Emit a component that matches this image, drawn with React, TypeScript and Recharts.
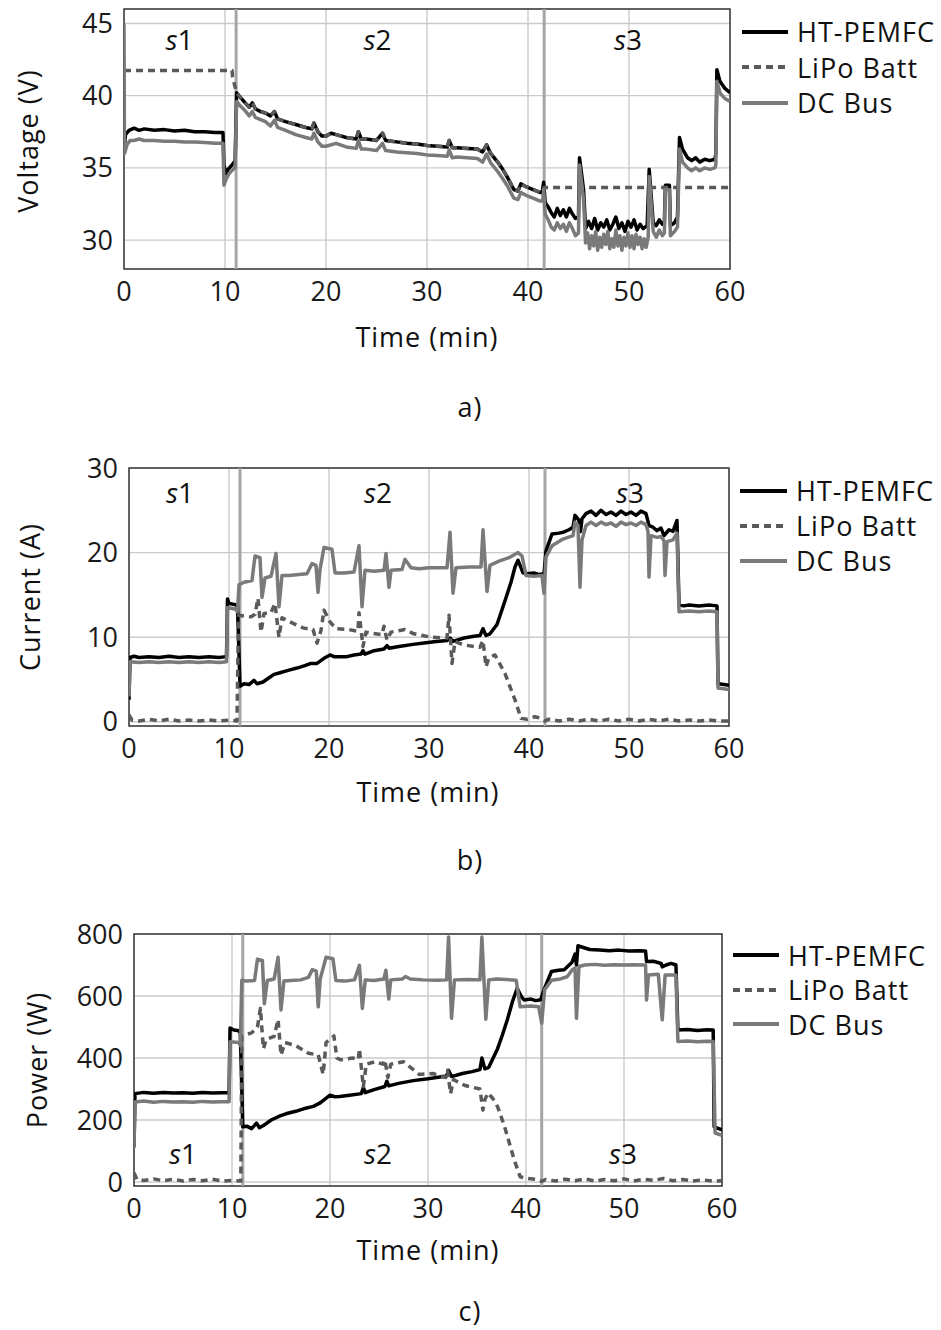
import React from "react";
import {
  CartesianGrid,
  Legend,
  Line,
  LineChart,
  ReferenceArea,
  ReferenceDot,
  ReferenceLine,
  XAxis,
  YAxis,
} from "recharts";

type Pt = [number, number];

const FONT = '"Open Sans", "DejaVu Sans", sans-serif';

const seriesNames = ["HT-PEMFC", "LiPo Batt", "DC Bus"];
const phaseNames = ["1", "2", "3"];
const phaseBounds = [11.1, 41.6];
const timeTicks = [0, 10, 20, 30, 40, 50, 60];

const voltageTicks = [30, 35, 40, 45];
const currentTicks = [0, 10, 20, 30];
const powerTicks = [0, 200, 400, 600, 800];

const voltagePhaseAt: Pt[] = [[5.5, 43.9], [25.1, 43.9], [49.9, 43.9]];
const currentPhaseAt: Pt[] = [[5.1, 27.2], [24.9, 27.2], [50.1, 27.2]];
const powerPhaseAt: Pt[] = [[5.0, 94], [24.9, 94], [49.9, 94]];

// ---- a) voltage ----
const fcVoltage: Pt[] = [
  [0, 36.2], [0.15, 37.3], [0.5, 37.6], [1, 37.75], [1.5, 37.6], [2, 37.7], [3, 37.6], [4, 37.65],
  [5, 37.55], [6, 37.6], [7, 37.5], [8, 37.5], [9, 37.45], [9.8, 37.45], [9.9, 35.2], [10.1, 34.6],
  [10.3, 34.9], [10.7, 35.2], [11.0, 35.5], [11.15, 40.2], [11.5, 39.9], [12, 39.5], [12.4, 39.2],
  [12.7, 39.5], [13, 39.1], [13.5, 38.9], [14, 38.8], [14.5, 38.6], [14.9, 38.9], [15.2, 38.4],
  [16, 38.2], [17, 38.0], [18, 37.8], [18.6, 37.7], [18.8, 38.1], [19.2, 37.5], [19.6, 37.2],
  [20, 37.2], [20.5, 37.4], [21, 37.3], [22, 37.1], [23, 37.0], [23.2, 37.5], [23.5, 37.0],
  [24, 37.0], [25, 36.9], [25.6, 37.4], [25.9, 36.9], [27, 36.8], [28, 36.7], [29, 36.65],
  [30, 36.55], [31, 36.5], [32, 36.45], [32.2, 36.9], [32.5, 36.4], [33, 36.4], [34, 36.35],
  [35, 36.3], [35.5, 36.1], [35.9, 36.6], [36.3, 36.0], [37, 35.4], [37.5, 34.9], [38, 34.3],
  [38.6, 33.5], [39, 33.4], [39.3, 33.9], [39.8, 33.7], [40.5, 33.5], [41.2, 33.3], [41.4, 33.3],
  [41.55, 34.0], [41.7, 32.6], [42.0, 32.3], [42.3, 31.9], [42.6, 31.6], [42.9, 32.2], [43.2, 31.7],
  [43.5, 32.1], [43.8, 31.6], [44.1, 32.2], [44.4, 31.8], [44.7, 31.5], [45.0, 31.6], [45.1, 35.7],
  [45.5, 33.5], [45.7, 30.8], [46.0, 31.3], [46.3, 30.8], [46.6, 31.5], [46.9, 30.7], [47.2, 31.2],
  [47.5, 30.9], [47.8, 31.4], [48.1, 30.7], [48.4, 31.1], [48.7, 31.6], [49.0, 30.8], [49.3, 31.2],
  [49.6, 30.6], [49.9, 31.3], [50.2, 30.9], [50.5, 31.4], [50.8, 30.7], [51.1, 31.1], [51.4, 30.8],
  [51.8, 31.0], [52.0, 34.9], [52.4, 31.2], [52.7, 31.0], [53.0, 31.4], [53.3, 31.1], [53.5, 31.2],
  [53.6, 33.8], [54.0, 33.8], [54.1, 31.0], [54.5, 31.2], [54.8, 31.6], [55.0, 37.1], [55.3, 36.3],
  [55.8, 35.7], [56.2, 35.5], [56.6, 35.7], [57.0, 35.4], [57.5, 35.6], [58.0, 35.5], [58.5, 35.6],
  [58.6, 36.0], [58.7, 41.8], [59.0, 41.0], [59.5, 40.5], [60, 40.2],
];

// battery voltage follows the fuel cell voltage through s2
const lipoVoltage: Pt[] = [
  [0, 41.75], [10.7, 41.75], [10.75, 41.3], [11.0, 40.6],
  ...fcVoltage.filter(([t]) => t >= 11.15 && t <= 41.4),
  [41.6, 33.65], [60, 33.65],
];

const busVoltage: Pt[] = [
  [0, 45], [0.05, 36.0], [0.3, 36.6], [0.6, 36.9], [1, 36.9], [1.5, 37.0], [2, 36.9], [3, 36.9],
  [4, 36.85], [5, 36.85], [6, 36.8], [7, 36.8], [8, 36.75], [9, 36.7], [9.8, 36.7], [9.9, 33.8],
  [10.1, 34.2], [10.4, 34.6], [10.8, 34.9], [11.0, 35.0], [11.15, 39.6], [11.5, 39.3], [12, 38.95],
  [12.4, 38.6], [12.7, 38.9], [13, 38.5], [14, 38.2], [14.5, 37.9], [14.9, 38.3], [15.2, 37.8],
  [16, 37.6], [17, 37.3], [18, 37.1], [18.6, 37.0], [18.8, 37.4], [19.2, 36.8], [19.6, 36.5],
  [20, 36.5], [21, 36.7], [22, 36.45], [23, 36.35], [23.2, 36.9], [23.5, 36.3], [24, 36.3],
  [25, 36.2], [25.6, 36.7], [25.9, 36.2], [27, 36.1], [28, 36.05], [29, 36.0], [30, 35.9],
  [31, 35.85], [32, 35.8], [32.2, 36.25], [32.5, 35.7], [33, 35.75], [34, 35.7], [35, 35.65],
  [35.5, 35.4], [35.9, 35.95], [36.3, 35.35], [37, 34.75], [37.5, 34.25], [38, 33.7], [38.6, 32.9],
  [39, 32.8], [39.3, 33.3], [39.8, 33.1], [40.5, 32.9], [41.2, 32.7], [41.45, 32.7], [41.55, 33.5],
  [41.7, 31.8], [42.0, 31.4], [42.3, 30.9], [42.6, 30.7], [42.9, 31.2], [43.2, 30.8], [43.5, 31.1],
  [43.8, 30.6], [44.1, 31.2], [44.4, 30.8], [44.7, 30.3], [45.0, 30.5], [45.1, 35.2], [45.5, 32.8],
  [45.7, 29.8], [45.9, 30.5], [46.1, 29.4], [46.3, 30.3], [46.5, 29.6], [46.7, 30.6], [46.9, 29.3],
  [47.1, 30.2], [47.3, 29.5], [47.5, 30.4], [47.7, 29.7], [47.9, 30.6], [48.1, 29.4], [48.3, 30.1],
  [48.5, 29.5], [48.7, 30.7], [48.9, 29.6], [49.1, 30.3], [49.3, 29.3], [49.5, 30.2], [49.7, 29.6],
  [49.9, 30.5], [50.1, 29.5], [50.3, 30.3], [50.5, 29.4], [50.7, 30.4], [50.9, 29.7], [51.1, 30.2],
  [51.3, 29.4], [51.5, 30.1], [51.7, 29.5], [51.9, 30.2], [52.0, 34.4], [52.4, 30.6], [52.7, 30.2],
  [53.0, 30.7], [53.3, 30.3], [53.5, 30.5], [53.6, 33.5], [54.0, 33.5], [54.1, 30.3], [54.5, 30.6],
  [54.8, 30.9], [55.0, 36.3], [55.3, 35.4], [55.8, 35.0], [56.2, 34.8], [56.6, 35.0], [57.0, 34.8],
  [57.5, 35.0], [58.0, 34.9], [58.5, 35.0], [58.6, 35.2], [58.7, 41.0], [59.0, 40.2], [59.5, 39.8],
  [60, 39.6],
];

// ---- b) current ----
const fcCurrent: Pt[] = [
  [0, 2.6], [0.1, 7.6], [0.5, 7.75], [1, 7.6], [2, 7.7], [3, 7.6], [4, 7.75], [5, 7.6], [6, 7.7],
  [7, 7.6], [8, 7.7], [9, 7.6], [9.75, 7.7], [9.85, 14.5], [10.0, 14.0], [10.4, 13.9], [10.7, 13.8],
  [10.85, 13.7], [11.1, 4.2], [11.5, 4.5], [12, 4.4], [12.5, 4.9], [12.8, 4.5], [13.4, 4.7],
  [14, 5.2], [14.5, 5.6], [15.1, 5.8], [16, 6.1], [16.8, 6.35], [17.5, 6.6], [18.2, 6.9], [18.8, 6.9],
  [19.5, 7.5], [20.1, 7.9], [20.5, 7.7], [21.8, 7.7], [22.5, 7.9], [23.2, 8.0], [23.4, 8.4],
  [23.6, 8.0], [24.5, 8.4], [25.5, 8.6], [25.8, 9.0], [26, 8.7], [27, 8.9], [28.4, 9.15],
  [29.5, 9.3], [30.5, 9.45], [31.8, 9.6], [32.1, 9.9], [32.4, 9.5], [33.5, 9.9], [34.5, 10.1],
  [35.1, 10.2], [35.4, 11.0], [35.7, 10.2], [36.1, 10.4], [36.8, 11.5], [37.6, 14.3], [38.2, 16.5],
  [38.6, 18.3], [38.9, 19.1], [39.4, 17.6], [39.8, 17.5], [40.5, 17.6], [41.0, 17.4], [41.5, 17.5],
  [41.7, 20.2], [42.3, 22.2], [43.0, 22.3], [43.4, 22.4], [44.0, 22.7], [44.4, 23.0], [44.6, 24.4],
  [45.0, 23.8], [45.15, 22.5], [45.3, 24.0], [45.7, 24.6], [46.2, 24.9], [46.7, 24.4], [47.2, 25.0],
  [47.7, 24.5], [48.2, 24.8], [48.7, 24.4], [49.2, 24.9], [49.7, 24.5], [50.2, 24.8], [50.7, 24.4],
  [51.2, 24.9], [51.7, 24.6], [52.0, 23.2], [52.4, 23.0], [52.8, 22.6], [53.2, 22.9], [53.5, 22.0],
  [54.0, 22.7], [54.4, 22.5], [54.8, 23.8], [55.0, 13.8], [55.5, 13.7], [56, 13.8], [57, 13.7],
  [58, 13.8], [58.8, 13.7], [58.9, 4.5], [59.5, 4.4], [60, 4.3],
];

const lipoCurrent: Pt[] = [
  [0, 0.8], [0.3, 0.2], [1, 0.1], [2, 0.3], [3, 0.1], [4, 0.3], [5, 0.1], [6, 0.2], [7, 0.1],
  [8, 0.2], [9, 0.1], [10, 0.2], [10.8, 0.1], [10.95, 12.6], [11.5, 12.5], [12.2, 12.4],
  [12.6, 12.7], [12.9, 14.6], [13.2, 10.6], [13.5, 12.8], [14.2, 12.9], [14.6, 14.0], [15.0, 10.0],
  [15.3, 12.3], [16.1, 11.8], [17.4, 11.1], [18.4, 10.9], [18.8, 9.3], [19.2, 10.8], [19.5, 13.2],
  [20.1, 11.8], [20.7, 11.0], [22.0, 10.9], [22.9, 10.7], [23.0, 12.9], [23.4, 8.9], [23.7, 10.6],
  [24.1, 10.5], [25.3, 10.3], [25.5, 11.3], [25.8, 9.65], [26.2, 10.6], [27.6, 10.9], [28.5, 10.4],
  [30.2, 10.0], [31.8, 9.9], [32.0, 12.6], [32.3, 6.9], [32.6, 9.5], [33.4, 9.1], [35.1, 8.8],
  [35.4, 9.6], [35.7, 6.5], [36.0, 7.6], [36.6, 7.9], [37.6, 5.7], [38.6, 2.6], [39.2, 0.4],
  [39.8, 0.3], [40.6, 0.6], [41.2, 0.4], [41.6, 0.1], [42, 0.3], [43, 0.1], [44, 0.3], [45, 0.1],
  [46, 0.3], [47, 0.1], [48, 0.3], [49, 0.1], [50, 0.3], [51, 0.1], [52, 0.3], [53, 0.1], [54, 0.3],
  [55, 0.1], [56, 0.2], [57, 0.1], [58, 0.2], [59, 0.1], [60, 0.1],
];

const busCurrent: Pt[] = [
  [0, 3], [0.1, 7.1], [1, 7.0], [2, 7.1], [3, 7.0], [4, 7.1], [5, 7.0], [6, 7.1], [7, 7.0], [8, 7.1],
  [9, 7.0], [9.75, 7.1], [9.85, 13.5], [10.7, 13.3], [10.85, 13.0], [11.0, 16.2], [11.5, 16.5],
  [12.3, 16.7], [12.6, 19.6], [13.1, 19.4], [13.3, 14.7], [13.6, 17.0], [14.2, 17.2], [14.7, 19.9],
  [15.0, 13.6], [15.3, 17.3], [16, 17.3], [17, 17.4], [17.8, 17.5], [18.3, 18.7], [18.7, 18.5],
  [18.9, 15.3], [19.1, 18.0], [19.5, 20.6], [20.3, 20.4], [20.6, 17.6], [21.5, 17.6], [22.5, 17.7],
  [23.0, 20.8], [23.3, 13.6], [23.6, 17.9], [24.5, 17.8], [25.5, 17.9], [25.7, 19.9], [26.0, 15.9],
  [26.2, 17.9], [27.3, 18.0], [27.6, 19.2], [28.2, 18.2], [29, 18.1], [30, 18.2], [31, 18.2],
  [31.8, 18.2], [32.1, 22.4], [32.4, 15.2], [32.7, 18.2], [34, 18.3], [35.2, 18.3], [35.4, 22.7],
  [35.8, 15.4], [36.1, 18.5], [37, 19.0], [38, 19.4], [38.9, 20.0], [39.3, 19.6], [39.7, 17.3],
  [40.5, 17.2], [41.3, 17.3], [41.5, 15.2], [41.7, 19.5], [42.3, 20.8], [43.4, 21.6], [44.4, 22.0],
  [44.6, 23.6], [44.9, 23.2], [45.1, 15.9], [45.3, 21.5], [45.7, 23.2], [46.2, 23.6], [46.7, 23.2],
  [47.2, 23.6], [47.7, 23.3], [48.2, 23.5], [48.7, 23.1], [49.2, 23.6], [49.7, 23.3], [50.2, 23.5],
  [50.7, 23.2], [51.2, 23.6], [51.7, 23.3], [51.9, 22.5], [52.0, 17.1], [52.2, 22.0], [52.8, 21.8],
  [53.2, 21.9], [53.5, 21.4], [53.6, 17.3], [53.8, 21.3], [54.4, 21.5], [54.8, 22.3], [55.0, 13.0],
  [56, 13.1], [57, 13.0], [58, 13.1], [58.8, 13.0], [58.9, 4.0], [60, 3.8],
];

// ---- c) power ----
const fcPower: Pt[] = [
  [0, 114], [0.1, 285], [1, 289], [2, 286], [3, 289], [4, 287], [5, 288], [6, 286], [7, 289],
  [8, 287], [9, 288], [9.7, 288], [9.8, 497], [10.2, 490], [10.7, 488], [10.85, 480], [11.1, 178],
  [11.5, 180], [12, 172], [12.5, 190], [12.8, 175], [13.2, 182], [14, 200], [14.9, 213], [15.5, 220],
  [16.5, 228], [17.3, 236], [18.3, 244], [19, 255], [20, 280], [20.5, 275], [21, 276], [22, 280],
  [23.2, 285], [23.4, 305], [23.6, 288], [24.5, 298], [25.6, 308], [25.8, 325], [26, 310], [27, 318],
  [28.5, 327], [30, 333], [31.9, 342], [32.1, 360], [32.4, 340], [33.5, 350], [34.5, 356],
  [35.3, 363], [35.5, 400], [35.8, 365], [36.2, 370], [37.1, 430], [37.6, 475], [38.1, 524],
  [38.6, 580], [39.1, 625], [39.5, 600], [39.8, 587], [40.5, 590], [41.0, 585], [41.5, 588],
  [41.8, 617], [42.6, 679], [43.3, 683], [43.9, 685], [44.7, 709], [45.0, 735], [45.15, 700],
  [45.3, 762], [45.6, 759], [46.5, 750], [47.5, 748], [48.5, 746], [49.5, 748], [50.5, 745],
  [51.5, 746], [52.2, 745], [52.3, 711], [53, 712], [53.8, 705], [53.9, 694], [54.3, 700],
  [54.8, 705], [55.3, 700], [55.5, 490], [56.5, 492], [57.5, 489], [58.5, 491], [59.1, 490],
  [59.2, 178], [60, 168],
];

const lipoPower: Pt[] = [
  [0, 30], [0.3, 8], [1, 5], [2, 10], [3, 4], [4, 9], [5, 3], [6, 8], [7, 4], [8, 9], [9, 3],
  [10, 5], [10.9, 3], [11.0, 471], [12.0, 481], [12.6, 500], [12.9, 560], [13.2, 430], [13.5, 460],
  [14.3, 470], [14.7, 524], [15.0, 409], [15.4, 450], [16.5, 440], [17.8, 415], [18.8, 410],
  [19.3, 347], [19.6, 450], [20.4, 471], [20.7, 400], [21.1, 394], [22.3, 400], [22.9, 395],
  [23.0, 430], [23.4, 307], [23.7, 380], [24.6, 388], [25.4, 380], [25.6, 394], [25.9, 337],
  [26.2, 380], [27.5, 388], [29.1, 347], [30.5, 350], [31.8, 337], [32.0, 360], [32.3, 285],
  [32.6, 330], [33.8, 311], [35.3, 300], [35.6, 232], [35.8, 265], [36.1, 287], [36.6, 270],
  [37.1, 243], [37.8, 180], [38.8, 71], [39.4, 17], [40, 12], [41.1, 8], [41.6, 2], [42, 8],
  [43, 3], [44, 9], [45, 4], [46, 10], [47, 3], [48, 8], [49, 4], [50, 10], [51, 3], [52, 9],
  [53, 5], [54, 11], [55, 4], [56, 8], [57, 3], [58, 7], [59, 3], [60, 4],
];

const busPower: Pt[] = [
  [0, 110], [0.1, 258], [1, 261], [2, 257], [3, 260], [4, 258], [5, 259], [6, 257], [7, 260],
  [8, 258], [9, 259], [9.7, 259], [9.8, 452], [10.7, 450], [10.85, 440], [11.0, 651], [11.5, 648],
  [12.3, 650], [12.6, 719], [13.1, 715], [13.3, 575], [13.6, 650], [14.3, 655], [14.7, 725],
  [15.0, 555], [15.3, 648], [16, 650], [17, 652], [17.8, 660], [18.2, 685], [18.6, 680], [18.8, 565],
  [19.0, 655], [19.6, 725], [20.3, 720], [20.6, 650], [21.5, 648], [22.5, 652], [23.0, 699],
  [23.3, 560], [23.6, 652], [24.5, 650], [25.5, 655], [25.7, 683], [26.0, 590], [26.2, 652],
  [27.4, 655], [27.7, 663], [28.2, 655], [29.5, 652], [31, 651], [31.9, 652], [32.1, 790],
  [32.4, 528], [32.7, 652], [34, 653], [35.3, 652], [35.5, 790], [35.9, 525], [36.2, 652], [37, 655],
  [38, 653], [39.0, 651], [39.4, 565], [40.5, 568], [41.3, 565], [41.6, 512], [41.9, 620],
  [42.6, 651], [43.5, 655], [44.2, 662], [44.7, 684], [45.0, 690], [45.15, 528], [45.4, 695],
  [46, 700], [47, 702], [48, 699], [49, 701], [50, 700], [51, 701], [52.2, 700], [52.3, 587],
  [52.5, 668], [53.5, 670], [53.9, 523], [54.2, 668], [55.3, 668], [55.5, 453], [56.5, 455],
  [57.5, 452], [58.5, 454], [59.1, 453], [59.3, 158], [60, 150],
];

const lineStyles = [
  { stroke: "#000000", dash: undefined as string | undefined },
  { stroke: "#5a5a5a", dash: "7 5" },
  { stroke: "#7a7a7a", dash: undefined as string | undefined },
];

const toRows = (pts: Pt[]) => pts.map(([t, v]) => ({ t, v }));

function LegendBox({ rowH, sample }: { rowH: number; sample: number }) {
  return (
    <div>
      {seriesNames.map((name, i) => (
        <div key={name} style={{ display: "flex", alignItems: "center", height: rowH }}>
          <svg width={sample} height={8}>
            <line
              x1={0}
              y1={4}
              x2={sample}
              y2={4}
              stroke={lineStyles[i].stroke}
              strokeWidth={4}
              strokeDasharray={lineStyles[i].dash}
            />
          </svg>
          <span
            style={{
              marginLeft: 9,
              fontFamily: FONT,
              fontSize: 27,
              letterSpacing: 1,
              color: "#111",
              lineHeight: 1,
              whiteSpace: "nowrap",
            }}
          >
            {name}
          </span>
        </div>
      ))}
    </div>
  );
}

type PanelProps = {
  top: number;
  height: number;
  margin: { top: number; right: number; bottom: number; left: number };
  yDomain: [number, number];
  yTicks: number[];
  series: Pt[][];
  phaseAt: Pt[];
  legend: { left: number; top: number; rowH: number; sample: number };
};

function Panel({ top, height, margin, yDomain, yTicks, series, phaseAt, legend }: PanelProps) {
  const tick = { fontFamily: FONT, fontSize: 27, fill: "#1a1a1a" };
  return (
    <div style={{ position: "absolute", left: 0, top }}>
      <LineChart width={941} height={height} margin={margin}>
        <CartesianGrid stroke="#cbcbcb" strokeWidth={1.4} />
        <XAxis
          type="number"
          dataKey="t"
          domain={[0, 60]}
          ticks={timeTicks}
          allowDataOverflow
          height={40}
          axisLine={false}
          tickLine={false}
          tickMargin={7}
          tick={tick}
        />
        <YAxis
          type="number"
          dataKey="v"
          domain={yDomain}
          ticks={yTicks}
          allowDataOverflow
          width={60}
          axisLine={false}
          tickLine={false}
          tickMargin={5}
          tick={tick}
        />
        {phaseBounds.map((x) => (
          <ReferenceLine key={x} x={x} stroke="#a6a6a6" strokeWidth={3} />
        ))}
        {series.map((pts, i) => (
          <Line
            key={seriesNames[i]}
            name={seriesNames[i]}
            data={toRows(pts)}
            dataKey="v"
            type="linear"
            stroke={lineStyles[i].stroke}
            strokeWidth={3.5}
            strokeDasharray={lineStyles[i].dash}
            strokeLinejoin="round"
            dot={false}
            isAnimationActive={false}
          />
        ))}
        <ReferenceArea
          x1={0}
          x2={60}
          y1={yDomain[0]}
          y2={yDomain[1]}
          fill="none"
          stroke="#3a3a3a"
          strokeWidth={1.5}
          ifOverflow="visible"
        />
        {phaseAt.map(([x, y], i) => (
          <ReferenceDot
            key={i}
            x={x}
            y={y}
            r={0}
            shape={(p: any) => (
              <text
                x={p.cx}
                y={p.cy}
                textAnchor="middle"
                dominantBaseline="central"
                fontFamily={FONT}
                fontSize={28}
                fill="#111"
              >
                <tspan fontStyle="italic">s</tspan>
                {phaseNames[i]}
              </text>
            )}
          />
        ))}
        <Legend
          layout="vertical"
          align="center"
          verticalAlign="middle"
          wrapperStyle={{ left: legend.left, top: legend.top, width: 200 }}
          content={() => <LegendBox rowH={legend.rowH} sample={legend.sample} />}
        />
      </LineChart>
    </div>
  );
}

function Caption({ x, y, text, rotate }: { x: number; y: number; text: string; rotate?: boolean }) {
  return (
    <div
      style={{
        position: "absolute",
        left: x,
        top: y,
        transform: `translate(-50%, -50%)${rotate ? " rotate(-90deg)" : ""}`,
        fontFamily: FONT,
        fontSize: 27,
        letterSpacing: 1,
        color: "#111",
        whiteSpace: "nowrap",
        lineHeight: 1.1,
      }}
    >
      {text}
    </div>
  );
}

export default function App() {
  return (
    <div style={{ position: "absolute", left: 0, top: 0, width: 941, height: 1330, background: "#fff" }}>
      <Panel
        top={0}
        height={320}
        margin={{ top: 9, right: 211, bottom: 11, left: 64 }}
        yDomain={[28, 46]}
        yTicks={voltageTicks}
        series={[fcVoltage, lipoVoltage, busVoltage]}
        phaseAt={voltagePhaseAt}
        legend={{ left: 742, top: 14, rowH: 35.5, sample: 46 }}
      />
      <Caption x={28} y={141} text="Voltage (V)" rotate />
      <Caption x={427} y={337} text="Time (min)" />
      <Caption x={470} y={407} text="a)" />

      <Panel
        top={440}
        height={330}
        margin={{ top: 28, right: 212, bottom: 4, left: 69 }}
        yDomain={[-0.5, 30]}
        yTicks={currentTicks}
        series={[fcCurrent, lipoCurrent, busCurrent]}
        phaseAt={currentPhaseAt}
        legend={{ left: 740, top: 33, rowH: 35, sample: 47 }}
      />
      <Caption x={30} y={597} text="Current (A)" rotate />
      <Caption x={428} y={792} text="Time (min)" />
      <Caption x={470} y={860} text="b)" />

      <Panel
        top={905}
        height={330}
        margin={{ top: 29, right: 219, bottom: 9, left: 74 }}
        yDomain={[-13, 800]}
        yTicks={powerTicks}
        series={[fcPower, lipoPower, busPower]}
        phaseAt={powerPhaseAt}
        legend={{ left: 733, top: 33, rowH: 34.5, sample: 46 }}
      />
      <Caption x={37} y={1060} text="Power (W)" rotate />
      <Caption x={428} y={1250} text="Time (min)" />
      <Caption x={470} y={1311} text="c)" />
    </div>
  );
}
